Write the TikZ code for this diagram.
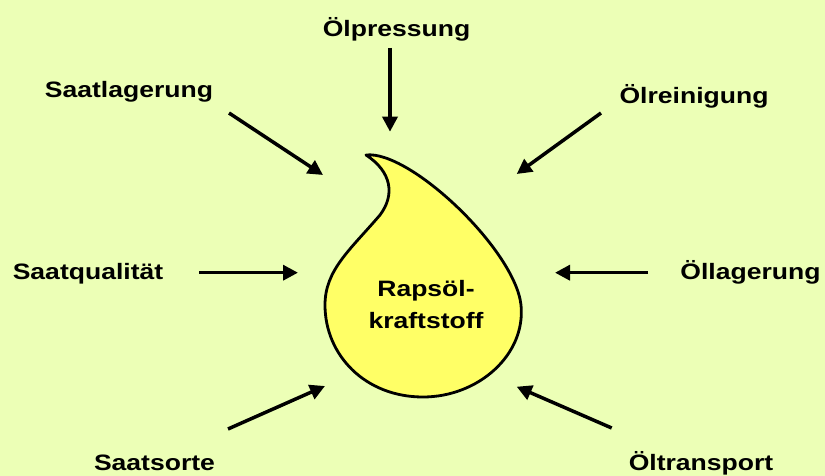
\documentclass[tikz,border=0pt]{standalone}
\usepackage{fontspec}
\setmainfont{Liberation Sans}
\usetikzlibrary{arrows.meta}
\definecolor{bgcol}{RGB}{236,255,182}
\definecolor{dropcol}{RGB}{255,255,102}
\newcommand{\lbl}[1]{\scalebox{1.19}[1]{#1}}
\begin{document}
\begin{tikzpicture}[x=1pt,y=-1pt,
  lab/.style={font=\fontsize{22.3}{26}\selectfont\bfseries, inner sep=0pt, anchor=base},
  arr/.style={line width=3.5pt, -{Triangle[length=15pt,width=15pt]}}]
\fill[bgcol] (0,0) rectangle (825,476);
\useasboundingbox (0,0) rectangle (825,476);
% drop
\draw[line width=2.8pt, fill=dropcol, line join=round]
  (366,155) .. controls (410,150) and (515,250) .. (521,305)
  .. controls (526,355) and (478,397) .. (423,397)
  .. controls (365,397) and (325,355) .. (325,305)
  .. controls (325,270) and (350,250) .. (380,215)
  .. controls (395,195) and (392,172) .. (366,155) -- cycle;
\node[lab] (rapsoel) at (426,296.7) {\lbl{Rapsöl-}};
\node[lab] (kraft) at (426,328) {\lbl{kraftstoff}};
% labels
\node[lab] (pressung) at (396.5,36.7) {\lbl{Ölpressung}};
\node[lab] (saatlag) at (129,97.3) {\lbl{Saatlagerung}};
\node[lab] (reinig) at (694,103.3) {\lbl{Ölreinigung}};
\node[lab] (qual) at (88,279.3) {\lbl{Saatqualität}};
\node[lab] (olag) at (750.5,279.3) {\lbl{Öllagerung}};
\node[lab] (sorte) at (154.5,470) {\lbl{Saatsorte}};
\node[lab] (trans) at (701,470) {\lbl{Öltransport}};
% arrow endpoints
\coordinate (a1s) at (390,48);    \coordinate (a1e) at (390,131.7);
\coordinate (a2s) at (229,113);   \coordinate (a2e) at (323,175);
\coordinate (a3s) at (601,113);   \coordinate (a3e) at (516.7,174);
\coordinate (a4s) at (199,272.7); \coordinate (a4e) at (298,272.7);
\coordinate (a5s) at (648,272.7); \coordinate (a5e) at (555,272.7);
\coordinate (a6s) at (228,429);   \coordinate (a6e) at (325,386);
\coordinate (a7s) at (611.7,428); \coordinate (a7e) at (516.7,386.7);
\draw[arr] (a1s) -- (a1e);
\draw[arr] (a2s) -- (a2e);
\draw[arr] (a3s) -- (a3e);
\draw[arr] (a4s) -- (a4e);
\draw[arr] (a5s) -- (a5e);
\draw[arr] (a6s) -- (a6e);
\draw[arr] (a7s) -- (a7e);
\end{tikzpicture}
\end{document}
